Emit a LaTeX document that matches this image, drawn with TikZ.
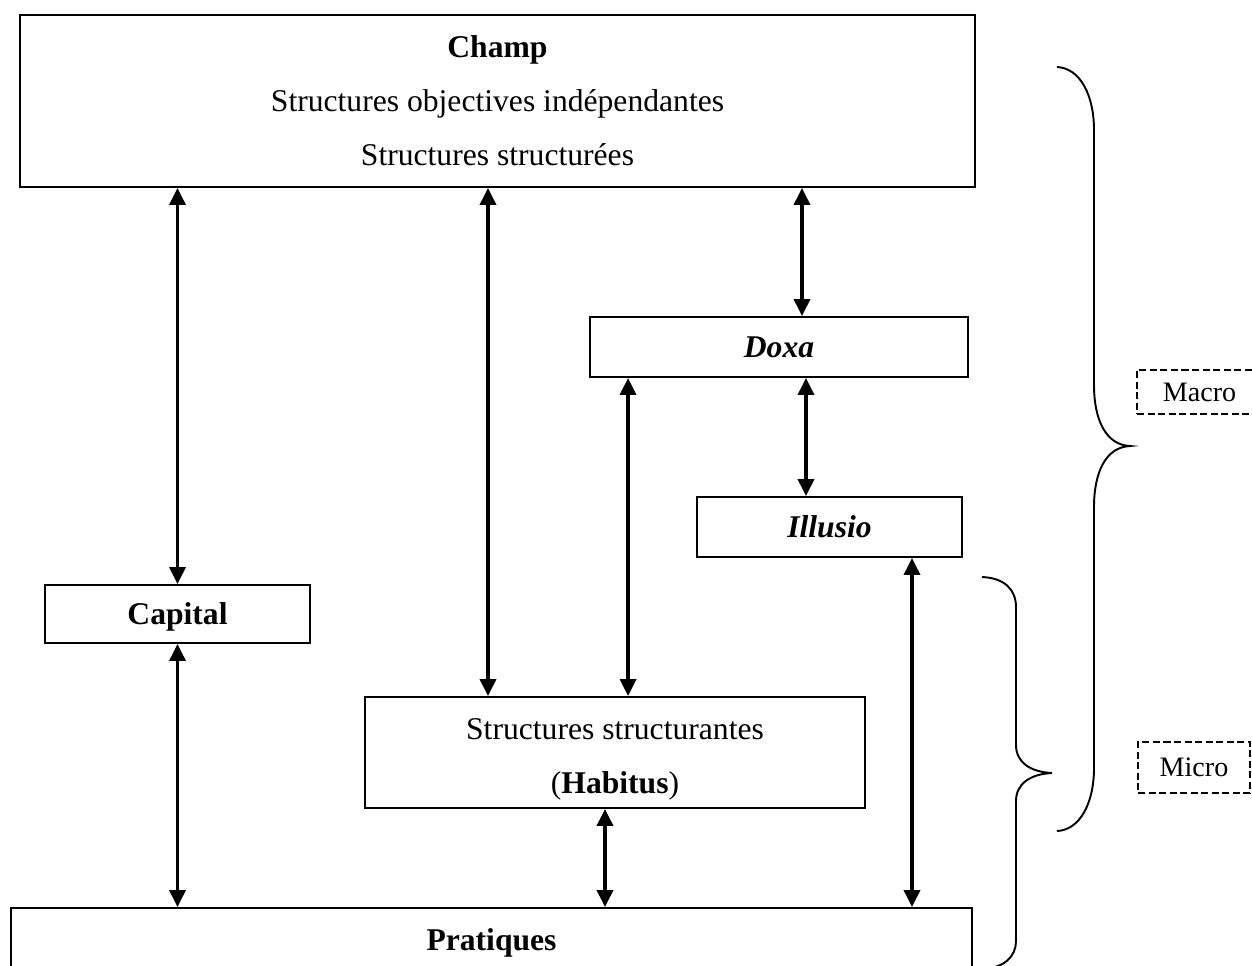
\documentclass[tikz,border=0pt]{standalone}
\usepackage{fontspec}
\setmainfont{Liberation Serif}
\usetikzlibrary{arrows.meta, calc}

\begin{document}
\begin{tikzpicture}[
  x=0.02cm, y=-0.02cm,
  bx/.style={draw, line width=1.1pt, align=center, inner sep=0pt, font=\fontsize{18}{30.8}\selectfont},
  tag/.style={draw, line width=0.9pt, dash pattern=on 4pt off 2pt, inner sep=0pt, font=\fontsize{16}{19}\selectfont},
  link/.style={{Triangle[length=0.34cm 0,width=0.32cm 0]}-{Triangle[length=0.34cm 0,width=0.32cm 0]}, line width=2pt},
  brc/.style={line width=1.1pt}
]
  \useasboundingbox (0,0) rectangle (1252,965);

  \node[bx, minimum width=19.1cm, minimum height=3.44cm] (champ) at (497.5,101) {
    \textbf{Champ}\\
    Structures objectives indépendantes\\
    Structures structurées
  };
  \node[bx, minimum width=7.56cm, minimum height=1.2cm] (doxa) at (779,347) {\textbf{\textit{Doxa}}};
  \node[bx, minimum width=5.3cm, minimum height=1.2cm] (illusio) at (829.5,527) {\textbf{\textit{Illusio}}};
  \node[bx, minimum width=5.3cm, minimum height=1.16cm, text depth=0pt] (capital) at (177.5,614) {\textbf{Capital}};
  \node[bx, minimum width=10cm, minimum height=2.22cm] (habitus) at (615,752.5) {
    \rule{0pt}{19.5pt}Structures structurantes\\
    (\textbf{Habitus})
  };
  \node[bx, minimum width=19.22cm, minimum height=1.28cm, text depth=0pt] (prat) at (491.5,940) {\textbf{Pratiques}};

  \node[tag, minimum width=2.5cm, minimum height=0.88cm] (macro) at (1199.5,392) {Macro};
  \node[tag, minimum width=2.24cm, minimum height=1.02cm] (micro) at (1194,767.5) {Micro};

  % liens
  \draw[link] (capital.north) -- (capital.north |- champ.south);
  \draw[link] (capital.south) -- (capital.south |- prat.north);
  \coordinate (h1) at ($(habitus.north)+(-127,0)$);
  \draw[link] (h1) -- (h1 |- champ.south);
  \coordinate (d1) at ($(doxa.north)+(23,0)$);
  \draw[link] (d1) -- (d1 |- champ.south);
  \coordinate (d2) at ($(doxa.south west)+(39,0)$);
  \draw[link] (d2) -- (d2 |- habitus.north);
  \coordinate (i1) at ($(illusio.north)+(-23.5,0)$);
  \draw[link] (i1) -- (i1 |- doxa.south);
  \coordinate (i2) at ($(illusio.south)+(82.5,0)$);
  \draw[link] (i2) -- (i2 |- prat.north);
  \coordinate (h2) at ($(habitus.south)+(-10,0)$);
  \draw[link] (h2) -- (h2 |- prat.north);

  % accolades
  \draw[brc] (1057,67) .. controls (1080,68) and (1094,95) .. (1094,130)
    -- (1094,385) .. controls (1094,420) and (1106,445) .. (1130,446)
    .. controls (1106,447) and (1094,472) .. (1094,507)
    -- (1094,768) .. controls (1094,803) and (1080,830) .. (1057,831);
  \draw[brc] (982,577) .. controls (1005,578) and (1016,590) .. (1016,607)
    -- (1016,745) .. controls (1016,762) and (1030,772) .. (1052,773)
    .. controls (1030,774) and (1016,784) .. (1016,801)
    -- (1016,941) .. controls (1016,956) and (1005,968) .. (982,969);
\end{tikzpicture}
\end{document}
